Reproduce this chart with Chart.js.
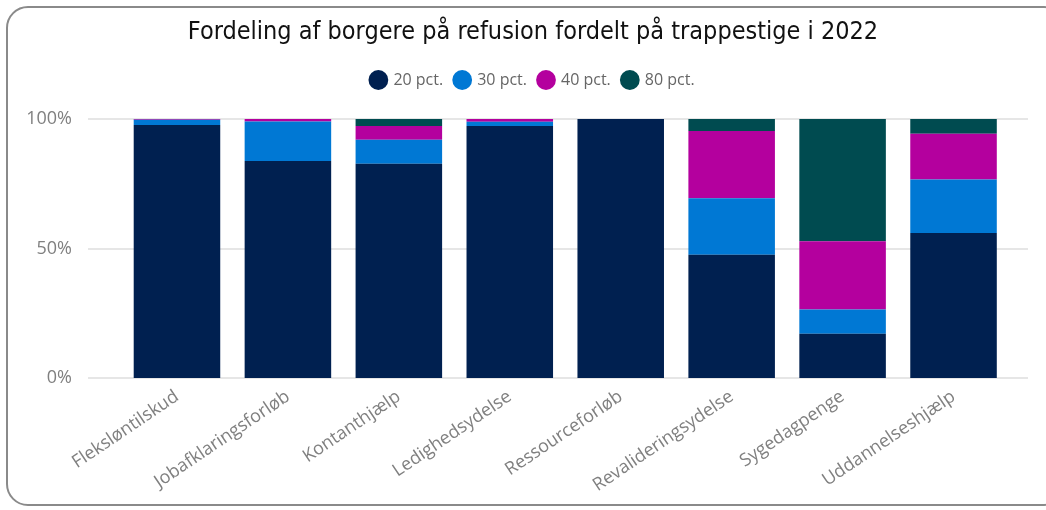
<!DOCTYPE html>
<html>
<head>
<meta charset="utf-8">
<script src="https://cdn.jsdelivr.net/npm/chart.js@4"></script>
<style>
  html, body { margin:0; padding:0; background:#fff; width:1046px; height:510px; overflow:hidden; }
  #card { position:absolute; left:6px; top:6px; width:1060px; height:500px; border:2px solid #8a8a8a; border-radius:22px; box-sizing:border-box; }
  #wrap { position:absolute; left:0; top:0; width:1046px; height:510px; }
</style>
</head>
<body>
<div id="card"></div>
<div id="wrap"><canvas id="c" width="1046" height="510"></canvas></div>
<script>
const categories = ["Fleksløntilskud","Jobafklaringsforløb","Kontanthjælp","Ledighedsydelse","Ressourceforløb","Revalideringsydelse","Sygedagpenge","Uddannelseshjælp"];
const seriesNames = ["20 pct.","30 pct.","40 pct.","80 pct."];
const pct20 = [97.7, 83.8, 82.7, 97.3, 100, 47.6, 17.1, 56.0];
const pct30 = [2.0, 15.2, 9.3, 1.6, 0, 21.8, 9.3, 20.6];
const pct40 = [0.3, 1.0, 5.3, 1.1, 0, 26.0, 26.4, 17.7];
const pct80 = [0, 0, 2.7, 0, 0, 4.6, 47.2, 5.7];
const colors = ["#002050", "#0078D4", "#B4009E", "#004B50"];
const yTicks = [0, 50, 100];

const gridExt = {
  id: 'gridExt',
  beforeDatasetsDraw(chart) {
    const y = chart.scales.y, ctx = chart.ctx;
    ctx.save();
    ctx.strokeStyle = '#E6E6E6';
    ctx.lineWidth = 2;
    yTicks.forEach(v => {
      const py = Math.round(y.getPixelForValue(v));
      ctx.beginPath();
      ctx.moveTo(88, py);
      ctx.lineTo(1028, py);
      ctx.stroke();
    });
    ctx.restore();
  }
};

const legendPad = {
  id: 'legendPad',
  beforeInit(chart) {
    const origFit = chart.legend.fit;
    chart.legend.fit = function () {
      origFit.bind(chart.legend)();
      this.height += 21;
    };
  }
};

const data = {
  labels: categories,
  datasets: [pct20, pct30, pct40, pct80].map((d, i) => ({
    label: seriesNames[i],
    data: d,
    backgroundColor: colors[i],
    borderWidth: 0,
    barPercentage: 0.78,
    categoryPercentage: 1.0
  }))
};

new Chart(document.getElementById('c'), {
  type: 'bar',
  data,
  plugins: [gridExt, legendPad],
  options: {
    responsive: false,
    animation: false,
    layout: { padding: { left: 20, right: 0, top: 6, bottom: 0 } },
    plugins: {
      title: {
        display: true,
        text: "Fordeling af borgere på refusion fordelt på trappestige i 2022",
        color: '#111',
        font: { family: "'DejaVu Sans Condensed', 'DejaVu Sans'", size: 25, weight: 'normal' },
        padding: { top: 11, bottom: 13 }
      },
      legend: {
        display: true,
        position: 'top',
        labels: {
          usePointStyle: true,
          pointStyle: 'circle',
          boxWidth: 14,
          boxHeight: 14,
          padding: 12,
          color: '#666',
          font: { family: "'Open Sans'", size: 16 }
        }
      },
      tooltip: { enabled: false }
    },
    scales: {
      x: {
        stacked: true,
        grid: { display: false },
        border: { display: false },
        afterFit(scale) { scale.height = 132; },
        ticks: {
          color: '#808080',
          font: { family: "'Open Sans'", size: 18 },
          minRotation: 34,
          maxRotation: 34,
          padding: 0
        }
      },
      y: {
        stacked: true,
        min: 0,
        max: 100,
        afterBuildTicks(scale) { scale.ticks = yTicks.map(v => ({ value: v })); },
        afterFit(scale) { scale.width = 101.5; },
        grid: { display: false },
        border: { display: false },
        ticks: {
          color: '#808080',
          font: { family: "'Open Sans'", size: 18 },
          padding: 41.5,
          callback: v => v + '%'
        }
      },
      yRight: {
        position: 'right',
        display: true,
        min: 0,
        max: 100,
        afterFit(scale) { scale.width = 37; },
        grid: { display: false },
        border: { display: false },
        ticks: { display: false }
      }
    }
  }
});
</script>
</body>
</html>
